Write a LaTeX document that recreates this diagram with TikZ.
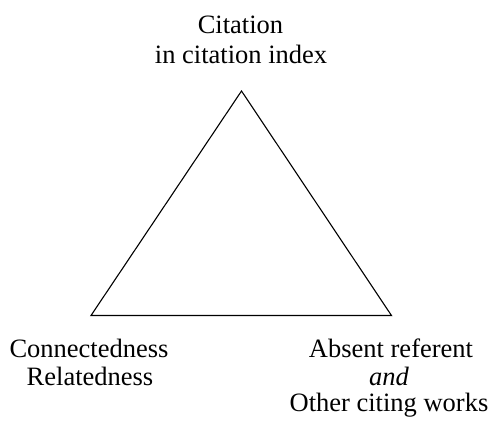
\documentclass[tikz,border=0pt]{standalone}
\usepackage{fontspec}
\setmainfont{Liberation Serif}
\tikzset{
  lbl/.style={anchor=base, inner sep=0pt, font=\fontsize{26.5}{30}\selectfont},
  edge/.style={line width=1.1pt, line join=miter}
}
\begin{document}
\begin{tikzpicture}[x=1pt,y=-1pt]
\useasboundingbox (0,0) rectangle (495,421);
\coordinate (top) at (241.5,91);
\coordinate (left) at (91,315.5);
\coordinate (right) at (391.5,315.5);
\draw[edge] (top) -- (right) -- (left) -- cycle;
\node[lbl] (t1) at (240.5,33) {Citation};
\node[lbl] (t2) at (241,63) {in citation index};
\node[lbl] (l1) at (89,357) {Connectedness};
\node[lbl] (l2) at (90,385) {Relatedness};
\node[lbl] (r1) at (391,357) {Absent referent};
\node[lbl] (r2) at (389,385) {\itshape and};
\node[lbl] (r3) at (389,411) {Other citing works};
\end{tikzpicture}
\end{document}
